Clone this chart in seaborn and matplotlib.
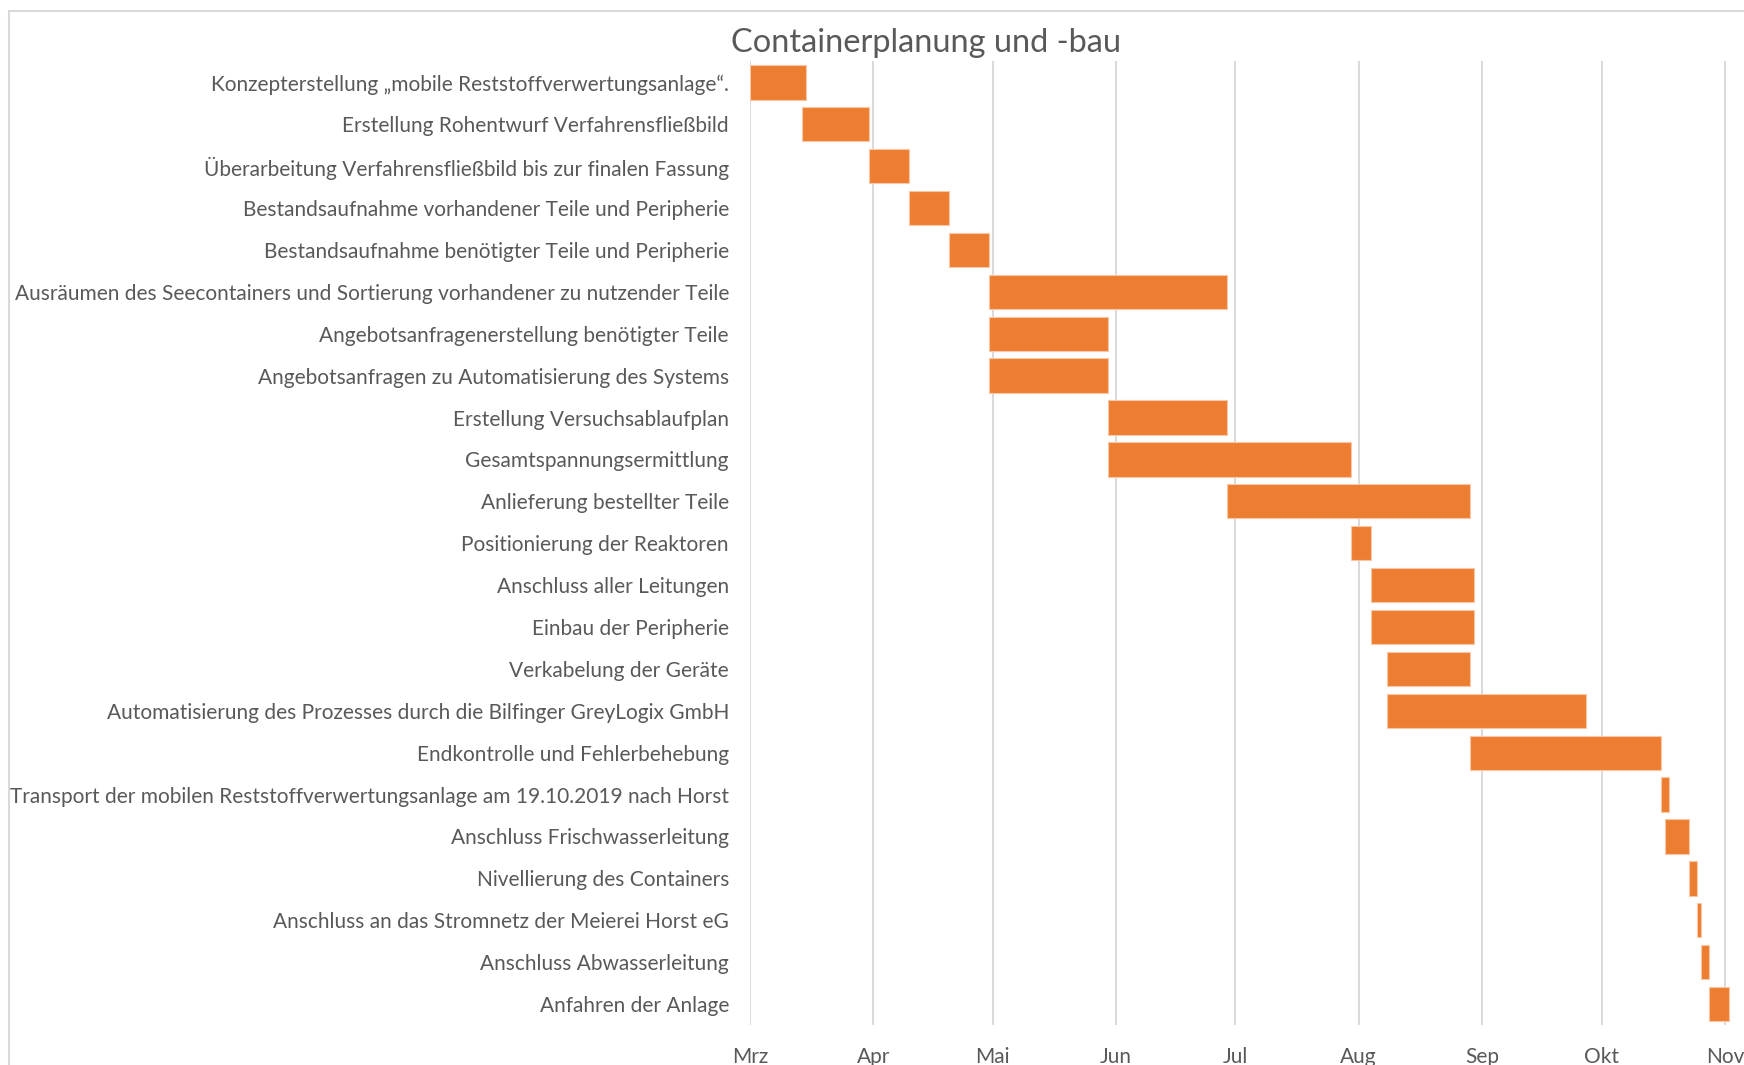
import matplotlib
matplotlib.use("Agg")
import matplotlib.pyplot as plt
import numpy as np
import pandas as pd
import seaborn as sns
from matplotlib.patches import Rectangle

# Arbeitspakete des Gantt-Diagramms (von oben nach unten)
aufgaben = [
    "Konzepterstellung „mobile Reststoffverwertungsanlage“.",
    "Erstellung Rohentwurf Verfahrensfließbild",
    "Überarbeitung Verfahrensfließbild bis zur finalen Fassung",
    "Bestandsaufnahme vorhandener Teile und Peripherie",
    "Bestandsaufnahme benötigter Teile und Peripherie",
    "Ausräumen des Seecontainers und Sortierung vorhandener zu nutzender Teile",
    "Angebotsanfragenerstellung benötigter Teile",
    "Angebotsanfragen zu Automatisierung des Systems",
    "Erstellung Versuchsablaufplan",
    "Gesamtspannungsermittlung",
    "Anlieferung bestellter Teile",
    "Positionierung der Reaktoren",
    "Anschluss aller Leitungen",
    "Einbau der Peripherie",
    "Verkabelung der Geräte",
    "Automatisierung des Prozesses durch die Bilfinger GreyLogix GmbH",
    "Endkontrolle und Fehlerbehebung",
    "Transport der mobilen Reststoffverwertungsanlage am 19.10.2019 nach Horst",
    "Anschluss Frischwasserleitung",
    "Nivellierung des Containers",
    "Anschluss an das Stromnetz der Meierei Horst eG",
    "Anschluss Abwasserleitung",
    "Anfahren der Anlage",
]

beginn = [
    "2019-03-01", "2019-03-14", "2019-03-31", "2019-04-10", "2019-04-20",
    "2019-04-30", "2019-04-30", "2019-04-30", "2019-05-30", "2019-05-30",
    "2019-06-29", "2019-07-30", "2019-08-04", "2019-08-04", "2019-08-08",
    "2019-08-08", "2019-08-29", "2019-10-16", "2019-10-17", "2019-10-23",
    "2019-10-25", "2019-10-26", "2019-10-28",
]

ende = [
    "2019-03-15", "2019-03-31", "2019-04-10", "2019-04-20", "2019-04-30",
    "2019-06-29", "2019-05-30", "2019-05-30", "2019-06-29", "2019-07-30",
    "2019-08-29", "2019-08-04", "2019-08-30", "2019-08-30", "2019-08-29",
    "2019-09-27", "2019-10-16", "2019-10-18", "2019-10-23", "2019-10-25",
    "2019-10-26", "2019-10-28", "2019-11-02",
]

monate = ["Mrz", "Apr", "Mai", "Jun", "Jul", "Aug", "Sep", "Okt", "Nov"]
monatsanfang = [
    "2019-03-01", "2019-04-01", "2019-05-01", "2019-06-01", "2019-07-01",
    "2019-08-01", "2019-09-01", "2019-10-01", "2019-11-01",
]

basis = pd.Timestamp("2019-03-01")
start_tage = (pd.to_datetime(beginn) - basis).days.to_numpy()
dauer_tage = (pd.to_datetime(ende) - pd.to_datetime(beginn)).days.to_numpy()
df = pd.DataFrame({"Aufgabe": aufgaben, "Start": start_tage, "Dauer": dauer_tage})
tick_tage = (pd.to_datetime(monatsanfang) - basis).days.to_numpy()

sns.set_theme(style="white")
plt.rcParams["font.family"] = ["Lato", "DejaVu Sans"]

TXT = "#595959"
ORANGE = "#ED7D31"
GRID = "#D9D9D9"

W, H = 1744, 1065
fig = plt.figure(figsize=(W / 100, H / 100), dpi=100)
fig.patch.set_facecolor("white")

x0, x1 = 749.8, W
y_top, y_bot = 61.4, 1025.0
ax = fig.add_axes([x0 / W, 1 - y_bot / H, (x1 - x0) / W, (y_bot - y_top) / H])

sns.barplot(
    data=df, x="Dauer", y="Aufgabe", orient="h",
    left=df["Start"].to_numpy(),
    color=ORANGE, saturation=1, width=0.82, errorbar=None,
    edgecolor="#F7C7A6", linewidth=0.8, ax=ax,
)

ax.set_xlim(0, (x1 - x0) / 3.98)
ax.set_ylim(len(aufgaben) - 0.5, -0.5)
ax.set_xticks(tick_tage, monate)
ax.set_axisbelow(True)
ax.grid(axis="x", color=GRID, linewidth=1.4)
ax.grid(axis="y", visible=False)
for s in ax.spines.values():
    s.set_visible(False)
ax.set_xlabel("")
ax.set_ylabel("")
ax.tick_params(axis="y", length=0, pad=15, labelsize=15, labelcolor=TXT)
ax.tick_params(axis="x", length=0, pad=16, labelsize=15, labelcolor=TXT)

fig.text(926 / W, 1 - 43 / H, "Containerplanung und -bau", ha="center", va="center",
         fontsize=23.4, color=TXT)

# Rahmen des Diagrammbereichs
fig.patches.append(Rectangle((9 / W, -0.1), 1.2, 1.1 - 11 / H, transform=fig.transFigure,
                             fill=False, edgecolor=GRID, linewidth=1.5))

fig.savefig("out.png", dpi=100, facecolor="white")
